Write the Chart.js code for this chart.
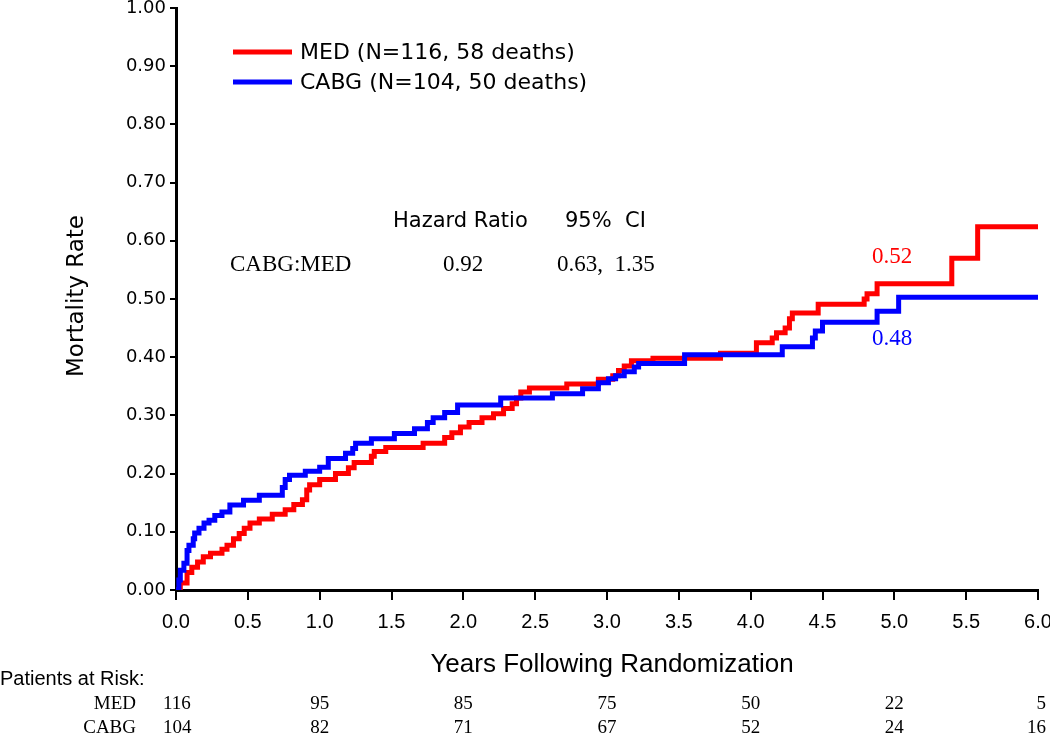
<!DOCTYPE html>
<html>
<head>
<meta charset="utf-8">
<script src="https://cdn.jsdelivr.net/npm/chart.js@4/dist/chart.umd.min.js"></script>
<style>
  body { margin: 0; background: #fff; }
  #wrap { width: 1050px; height: 736px; }
</style>
</head>
<body>
<div id="wrap"><canvas id="kmChart" width="1050" height="736"></canvas></div>
<script>
// Kaplan-Meier mortality
const medYears = [0, 0.03, 0.077, 0.11, 0.15, 0.19, 0.24, 0.32, 0.355, 0.40, 0.44, 0.475, 0.515, 0.58, 0.67, 0.76, 0.82, 0.88, 0.91, 0.93, 1.00,
  1.11, 1.20, 1.24, 1.36, 1.38, 1.46, 1.72, 1.87, 1.92, 1.98, 2.04, 2.13, 2.21, 2.28, 2.34, 2.37, 2.40, 2.46, 2.72, 2.94,
  3.04, 3.08, 3.12, 3.17, 3.32, 3.79, 4.04, 4.15, 4.18, 4.24, 4.27, 4.29, 4.47, 4.79, 4.81, 4.88, 5.40, 5.58, 6.0];
const medRate = [0, 0.012, 0.030, 0.039, 0.048, 0.057, 0.063, 0.070, 0.077, 0.088, 0.097, 0.106, 0.115, 0.122, 0.130, 0.138, 0.147, 0.155, 0.172, 0.181, 0.190,
  0.200, 0.210, 0.219, 0.230, 0.238, 0.245, 0.252, 0.262, 0.270, 0.280, 0.288, 0.296, 0.303, 0.312, 0.320, 0.330, 0.340, 0.347, 0.354, 0.362,
  0.368, 0.377, 0.385, 0.394, 0.398, 0.407, 0.425, 0.433, 0.442, 0.450, 0.466, 0.476, 0.491, 0.500, 0.509, 0.526, 0.570, 0.624, 0.624];

const cabgYears = [0, 0.02, 0.03, 0.055, 0.077, 0.09, 0.12, 0.13, 0.16, 0.195, 0.23, 0.27, 0.32, 0.375, 0.47, 0.58, 0.74, 0.76, 0.79, 0.90, 1.00,
  1.06, 1.18, 1.23, 1.25, 1.36, 1.52, 1.66, 1.75, 1.79, 1.87, 1.96, 2.26, 2.62, 2.83, 2.94, 3.01, 3.06, 3.12, 3.19, 3.22, 3.54,
  4.22, 4.43, 4.45, 4.50, 4.88, 5.03, 6.0];
const cabgRate = [0, 0.017, 0.034, 0.046, 0.068, 0.077, 0.088, 0.098, 0.106, 0.115, 0.120, 0.128, 0.134, 0.146, 0.154, 0.163, 0.176, 0.190, 0.197, 0.204, 0.211,
  0.226, 0.235, 0.243, 0.252, 0.260, 0.269, 0.277, 0.288, 0.296, 0.305, 0.318, 0.330, 0.337, 0.346, 0.356, 0.363, 0.368, 0.375, 0.383, 0.389, 0.404,
  0.418, 0.433, 0.445, 0.460, 0.479, 0.503, 0.503];

const riskYears = [0, 1, 2, 3, 4, 5, 6];
const medAtRisk = [116, 95, 85, 75, 50, 22, 5];
const cabgAtRisk = [104, 82, 71, 67, 52, 24, 16];

const RED = "#ff0000", BLUE = "#0000ff";
const SANS = "'DejaVu Sans', Verdana, sans-serif";
const NARROW = "'Liberation Sans Narrow', 'Arial Narrow', 'Liberation Sans', Arial, sans-serif";
const SERIF = "'Liberation Serif', 'Times New Roman', serif";

function pts(xs, ys) { return xs.map((x, i) => ({ x, y: ys[i] })); }

const extras = {
  id: "extras",
  afterDraw(chart) {
    const ctx = chart.ctx, xs = chart.scales.x;
    ctx.save();
    ctx.textBaseline = "middle";

    // legend
    [[RED, "MED (N=116, 58 deaths)", 52], [BLUE, "CABG (N=104, 50 deaths)", 82]].forEach(([c, t, y]) => {
      ctx.strokeStyle = c; ctx.lineWidth = 5;
      ctx.beginPath(); ctx.moveTo(233, y); ctx.lineTo(292, y); ctx.stroke();
      ctx.fillStyle = "#000"; ctx.font = "22px " + SANS; ctx.textAlign = "left";
      ctx.fillText(t, 300, y + 1);
    });

    // hazard ratio block
    ctx.fillStyle = "#000";
    ctx.font = "21px " + SANS;
    ctx.fillText("Hazard Ratio", 393, 222);
    ctx.fillText("95%  CI", 565, 222);
    ctx.font = "23px " + SERIF;
    ctx.fillText("CABG:MED", 230, 265);
    ctx.fillText("0.92", 443, 265);
    ctx.fillText("0.63,  1.35", 557, 265);

    // end labels
    ctx.font = "23px " + SERIF;
    ctx.fillStyle = RED; ctx.fillText("0.52", 872, 257);
    ctx.fillStyle = BLUE; ctx.fillText("0.48", 872, 339);

    // axis titles
    ctx.fillStyle = "#000";
    ctx.textAlign = "center";
    ctx.font = "26px " + NARROW;
    ctx.fillText("Years Following Randomization", 612, 665);
    ctx.save();
    ctx.translate(77, 296); ctx.rotate(-Math.PI / 2);
    ctx.font = "23px " + SANS;
    ctx.fillText("Mortality Rate", 0, 0);
    ctx.restore();

    // patients at risk table
    ctx.textAlign = "left";
    ctx.font = "20px " + NARROW;
    ctx.fillText("Patients at Risk:", 0, 679);
    ctx.font = "19px " + SERIF;
    ctx.textAlign = "right";
    ctx.fillText("MED", 136, 704);
    ctx.fillText("CABG", 136, 728);
    riskYears.forEach((yr, i) => {
      const px = xs.getPixelForValue(yr);
      ctx.textAlign = i === 0 ? "left" : (i === riskYears.length - 1 ? "right" : "center");
      const ax = i === 0 ? px - 13 : (i === riskYears.length - 1 ? px + 8 : px);
      ctx.fillText(String(medAtRisk[i]), ax, 704);
      ctx.fillText(String(cabgAtRisk[i]), ax, 728);
    });
    ctx.restore();
  }
};

new Chart(document.getElementById("kmChart"), {
  type: "line",
  data: {
    datasets: [
      { label: "CABG", data: pts(cabgYears, cabgRate), borderColor: BLUE, borderWidth: 5, stepped: "before", pointRadius: 0, order: 0 },
      { label: "MED", data: pts(medYears, medRate), borderColor: RED, borderWidth: 5, stepped: "before", pointRadius: 0, order: 1 }
    ]
  },
  options: {
    responsive: false,
    animation: false,
    layout: { padding: { left: 0, right: 12, top: 8, bottom: 0 } },
    plugins: { legend: { display: false }, tooltip: { enabled: false } },
    scales: {
      x: {
        type: "linear", min: 0, max: 6,
        ticks: { stepSize: 0.5, color: "#000", padding: 10, font: { family: NARROW, size: 20 }, callback: v => v.toFixed(1) },
        grid: { drawOnChartArea: false, color: "#000", lineWidth: 2, tickLength: 10 },
        border: { color: "#000", width: 3 },
        afterFit: s => { s.height = 146; s.paddingLeft = 0; s.paddingRight = 0; }
      },
      y: {
        min: 0, max: 1,
        ticks: { stepSize: 0.1, color: "#000", padding: 4, font: { family: SANS, size: 18 }, callback: v => v.toFixed(2) },
        grid: { drawOnChartArea: false, color: "#000", lineWidth: 2, tickLength: 6 },
        border: { color: "#000", width: 3 },
        afterFit: s => { s.width = 176; s.paddingTop = 0; s.paddingBottom = 0; }
      }
    }
  },
  plugins: [extras]
});
</script>
</body>
</html>
